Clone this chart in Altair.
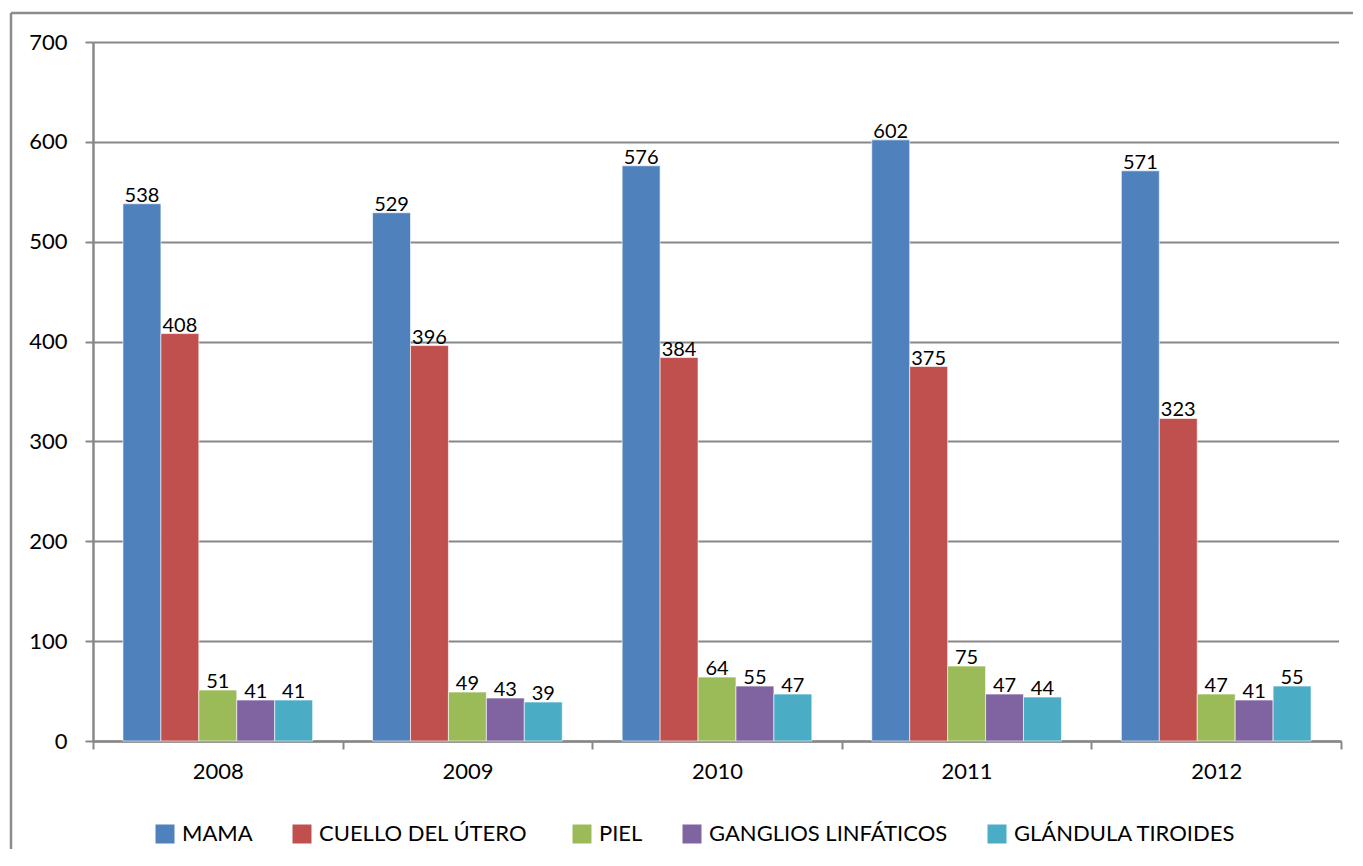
import altair as alt
import pandas as pd

years = ["2008", "2009", "2010", "2011", "2012"]
series = ["MAMA", "CUELLO DEL  ÚTERO", "PIEL", "GANGLIOS LINFÁTICOS", "GLÁNDULA TIROIDES"]
mama = [538, 529, 576, 602, 571]
cuello = [408, 396, 384, 375, 323]
piel = [51, 49, 64, 75, 47]
ganglios = [41, 43, 55, 47, 41]
tiroides = [41, 39, 47, 44, 55]
colors = ["#4F81BD", "#C0504D", "#9BBB59", "#8064A2", "#4BACC6"]

rows = []
for s, vals in zip(series, [mama, cuello, piel, ganglios, tiroides]):
    for y, v in zip(years, vals):
        rows.append({"year": y, "serie": s, "value": v})
df = pd.DataFrame(rows)

FONT = "Lato"

x = alt.X("year:N", title=None, sort=years,
          scale=alt.Scale(paddingInner=0, paddingOuter=0),
          axis=alt.Axis(labelAngle=0, labelFontSize=22, labelColor="#000000", labelFont=FONT,
                        tickBand="extent", tickSize=8, tickWidth=2, tickColor="#888888",
                        domainColor="#888888", domainWidth=2.5, labelPadding=12,
                        grid=False, zindex=0))
xo = alt.XOffset("serie:N", sort=series,
                 scale=alt.Scale(paddingOuter=0.79, paddingInner=0))
y = alt.Y("value:Q", title=None,
          scale=alt.Scale(domain=[0, 700]),
          axis=alt.Axis(values=list(range(0, 701, 100)), labelFontSize=22, labelColor="#000000",
                        labelFont=FONT, tickSize=8, tickWidth=2, tickColor="#888888",
                        domainColor="#888888", domainWidth=2.5, labelPadding=18,
                        gridColor="#888888", gridWidth=2, zindex=0))
color = alt.Color("serie:N", sort=series,
                  scale=alt.Scale(domain=series, range=colors),
                  legend=alt.Legend(title=None, orient="none", direction="horizontal",
                                    legendX=61, legendY=781, symbolType="square",
                                    symbolSize=361, symbolStrokeWidth=0, labelFontSize=22,
                                    labelFont=FONT, labelColor="#000000", labelOffset=6,
                                    labelLimit=0, columnPadding=38, columns=5))

base = alt.Chart(df)
bars = base.mark_bar(stroke="white", strokeWidth=0.6).encode(x=x, xOffset=xo, y=y, color=color)
labels = base.mark_text(baseline="bottom", dy=2, fontSize=20, font=FONT, color="#000000").encode(
    x=x, xOffset=xo, y=y, text="value:Q")

one = pd.DataFrame({"a": [0]})
border_left = alt.Chart(one).mark_rule(color="#8c8c8c", strokeWidth=2.5, clip=False).encode(
    x=alt.value(-82), y=alt.value(-29), y2=alt.value(900))
border_top = alt.Chart(one).mark_rule(color="#8c8c8c", strokeWidth=2.5, clip=False).encode(
    x=alt.value(-82), x2=alt.value(1300), y=alt.value(-29))
# hide the right edge of the plot frame (the reference has no right border)
right_mask = alt.Chart(one).mark_rule(color="white", strokeWidth=5, clip=False).encode(
    x=alt.value(1248.5), y=alt.value(-3), y2=alt.value(697))

chart = alt.layer(border_left, border_top, bars, labels, right_mask).properties(
    width=1248, height=699,
    autosize=alt.AutoSizeParams(type="none"),
    padding={"left": 85, "top": 34, "right": 12, "bottom": 108},
).configure(background="white").configure_view(stroke=None, strokeWidth=0)

chart.save("out.html", embed_options={"renderer": "svg", "actions": False})
